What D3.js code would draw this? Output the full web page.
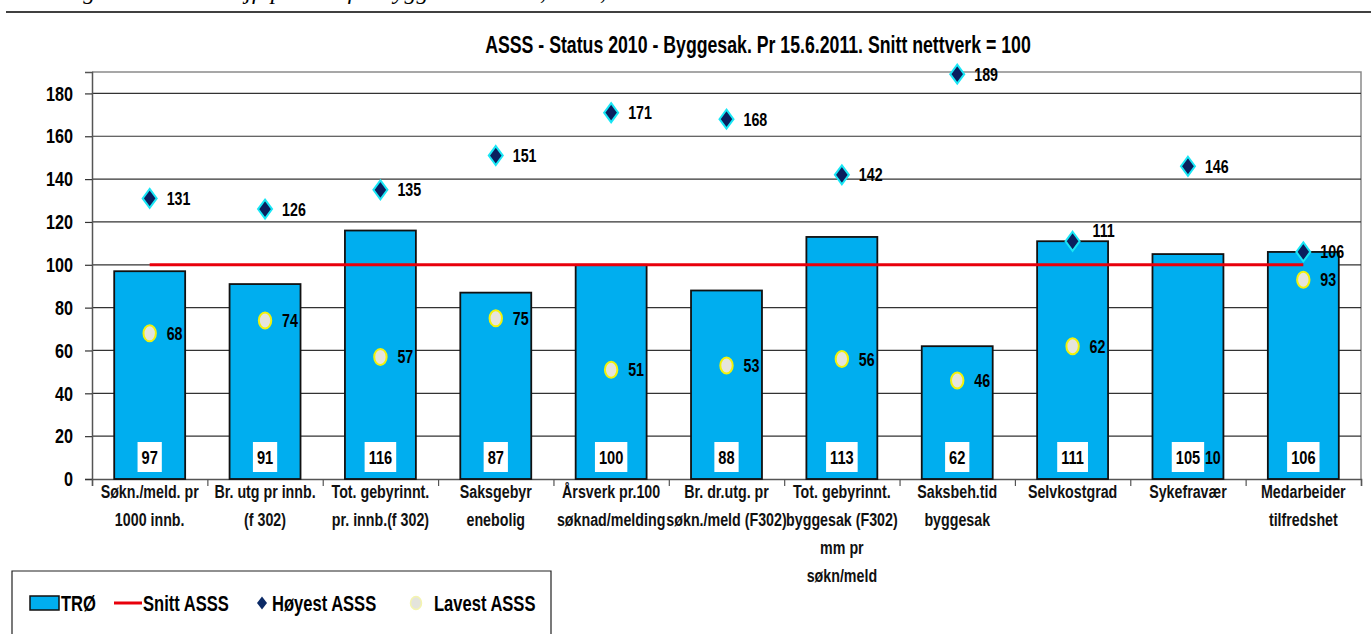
<!DOCTYPE html>
<html>
<head>
<meta charset="utf-8">
<script src="https://cdn.jsdelivr.net/npm/d3@7"></script>
<style>
  html, body { margin: 0; padding: 0; background: #fff; }
  svg { display: block; }
  .nar { font-family: "Liberation Sans", Arial, sans-serif; font-weight: bold; }
</style>
</head>
<body>
<svg id="chart" width="1371" height="634"></svg>
<script>
// Indicator names (line breaks as in the category axis)
const categories = [
  "Søkn./meld. pr\n1000 innb.",
  "Br. utg pr innb.\n(f 302)",
  "Tot. gebyrinnt.\npr. innb.(f 302)",
  "Saksgebyr\nenebolig",
  "Årsverk pr.100\nsøknad/melding",
  "Br. dr.utg. pr\nsøkn./meld (F302)",
  "Tot. gebyrinnt.\nbyggesak (F302)\nmm pr\nsøkn/meld",
  "Saksbeh.tid\nbyggesak",
  "Selvkostgrad",
  "Sykefravær",
  "Medarbeider\ntilfredshet"
];
// Trondheim (index, network average = 100)
const troValues = [97, 91, 116, 87, 100, 88, 113, 62, 111, 105, 106];
// Highest and lowest value in the ASSS network
const highValues = [131, 126, 135, 151, 171, 168, 142, 189, 111, 146, 106];
const lowValues = [68, 74, 57, 75, 51, 53, 56, 46, 62, 10, 93];
// Network average
const avgValue = 100;
const yTicks = [0, 20, 40, 60, 80, 100, 120, 140, 160, 180];

const title = "ASSS - Status 2010 - Byggesak. Pr 15.6.2011. Snitt nettverk = 100";
const caption = "Figur 4 Nøkkeltall jf. prosess for byggesak i ASSS, 2010, Trondheim";

const svg = d3.select("#chart");
const plotL = 92, plotR = 1361, plotT = 72, plotB = 479;
const barFill = "#00aeef";
const SQ = 0.77; // horizontal squeeze giving a narrow bold face

// narrow bold text: a group placed at (x, y), squeezed horizontally
function ntext(parent, x, y, str, size, anchor = "start", lead = 1.3) {
  const g = parent.append("g").attr("transform", `translate(${x},${y}) scale(${SQ},1)`);
  const t = g.append("text").attr("class", "nar").attr("font-size", size)
    .attr("text-anchor", anchor).attr("fill", "#000");
  String(str).split("\n").forEach((l, k) =>
    t.append("tspan").attr("x", 0).attr("y", k * size * lead).attr("dy", "0.35em").text(l));
  return t;
}

const x = d3.scaleBand().domain(d3.range(categories.length))
  .range([plotL, plotR]).paddingInner(0.385).paddingOuter(0.1925);
const cx = i => x(i) + x.bandwidth() / 2;
const y = d3.scaleLinear().domain([0, 190]).range([plotB, plotT]);

// cropped caption above the rule
svg.append("text").attr("x", 62).attr("y", -1)
  .attr("font-family", "Liberation Serif, Times New Roman, serif")
  .attr("font-style", "italic").attr("font-size", 24)
  .text(caption);
svg.append("line").attr("x1", 6).attr("x2", 1371).attr("y1", 12).attr("y2", 12)
  .attr("stroke", "#000").attr("stroke-width", 1.5);

// title
ntext(svg, 758, 45, title, 23, "middle");

// plot frame (top and right)
svg.append("path")
  .attr("d", `M${plotL},${plotT}H${plotR}V${plotB}`)
  .attr("fill", "none").attr("stroke", "#8a8a8a").attr("stroke-width", 1.5);

// gridlines
svg.append("g").selectAll("line").data(yTicks.filter(v => v > 0)).join("line")
  .attr("x1", plotL).attr("x2", plotR)
  .attr("y1", d => y(d)).attr("y2", d => y(d))
  .attr("stroke", "#333").attr("stroke-width", 1.2);

// y axis
const yAxis = svg.append("g").attr("transform", `translate(${plotL},0)`)
  .call(d3.axisLeft(y).tickValues(yTicks).tickSize(7).tickPadding(12));
yAxis.select(".domain").attr("stroke", "#555").attr("stroke-width", 1.5);
yAxis.selectAll(".tick line").attr("stroke", "#333").attr("stroke-width", 1.2);
yAxis.selectAll(".tick text").attr("class", "nar").attr("font-size", 21).attr("fill", "#000")
  .attr("x", -19 / SQ).attr("transform", `scale(${SQ},1)`);

// x axis with ticks at category boundaries
const xb = d3.scaleLinear().domain([0, categories.length]).range([plotL, plotR]);
const xAxis = svg.append("g").attr("transform", `translate(0,${plotB})`)
  .call(d3.axisBottom(xb).tickValues(d3.range(0, categories.length + 1)).tickSize(7).tickFormat(""));
xAxis.select(".domain").attr("stroke", "#555").attr("stroke-width", 1.5);
xAxis.selectAll(".tick line").attr("stroke", "#555").attr("stroke-width", 1.2);

// category labels
const catG = svg.append("g");
categories.forEach((c, i) => {
  ntext(catG, cx(i), 492, c, 18.5, "middle", 1.5).attr("fill", "#111");
});

// bars
svg.append("g").selectAll("rect").data(troValues).join("rect")
  .attr("x", (d, i) => x(i)).attr("width", x.bandwidth())
  .attr("y", d => y(d)).attr("height", d => y(0) - y(d))
  .attr("fill", barFill).attr("stroke", "#111").attr("stroke-width", 1.8);

// network average line
svg.append("line")
  .attr("x1", cx(0)).attr("x2", cx(categories.length - 1))
  .attr("y1", y(avgValue)).attr("y2", y(avgValue))
  .attr("stroke", "#e8000b").attr("stroke-width", 3);

// highest markers
const diamond = (s, h) => `M0,${-h}L${s},0L0,${h}L${-s},0Z`;
svg.append("g").selectAll("path").data(highValues).join("path")
  .attr("transform", (d, i) => `translate(${cx(i)},${y(d)})`)
  .attr("d", diamond(7, 9.5))
  .attr("fill", "#0b1f5e").attr("stroke", "#19e6f5").attr("stroke-width", 2);

// lowest markers
svg.append("g").selectAll("ellipse").data(lowValues).join("ellipse")
  .attr("cx", (d, i) => cx(i)).attr("cy", d => y(d))
  .attr("rx", 6.2).attr("ry", 8)
  .attr("fill", "#e6e4dc").attr("stroke", "#f2f20a").attr("stroke-width", 2);

// bar value labels on white boxes at the base
const valG = svg.append("g");
troValues.forEach((v, i) => {
  const box = valG.append("rect");
  const t = ntext(valG, cx(i), y(0) - 22, v, 19, "middle");
  const w = t.node().getBBox().width * SQ;
  box.attr("x", cx(i) - w / 2 - 4).attr("width", w + 8)
    .attr("y", y(0) - 37).attr("height", 30).attr("fill", "#fff");
});

// marker labels
const highNudge = { 8: [3, -11] };
const labG = svg.append("g");
highValues.forEach((v, i) => {
  const n = highNudge[i] || [0, 0];
  ntext(labG, cx(i) + 17 + n[0], y(v) + n[1], v, 18.5);
});
lowValues.forEach((v, i) => ntext(labG, cx(i) + 17, y(v), v, 18.5));

// legend
const lg = svg.append("g");
lg.append("path").attr("d", "M12,640V571H551V640")
  .attr("fill", "none").attr("stroke", "#222").attr("stroke-width", 1.2);
const ly = 603;
lg.append("rect").attr("x", 30).attr("y", ly - 7).attr("width", 29).attr("height", 14)
  .attr("fill", barFill).attr("stroke", "#111").attr("stroke-width", 1.5);
ntext(lg, 61, ly, "TRØ", 21.5);
lg.append("line").attr("x1", 114).attr("x2", 142).attr("y1", ly).attr("y2", ly)
  .attr("stroke", "#e8000b").attr("stroke-width", 3);
ntext(lg, 143, ly, "Snitt ASSS", 21.5);
lg.append("path").attr("transform", `translate(262,${ly})`).attr("d", diamond(5, 6.5))
  .attr("fill", "#0b2a66");
ntext(lg, 272, ly, "Høyest ASSS", 21.5);
lg.append("ellipse").attr("cx", 416).attr("cy", ly).attr("rx", 5.5).attr("ry", 6.5)
  .attr("fill", "#e4e4dc").attr("stroke", "#f4f4b0").attr("stroke-width", 1.5);
ntext(lg, 434, ly, "Lavest ASSS", 21.5);
</script>
</body>
</html>
